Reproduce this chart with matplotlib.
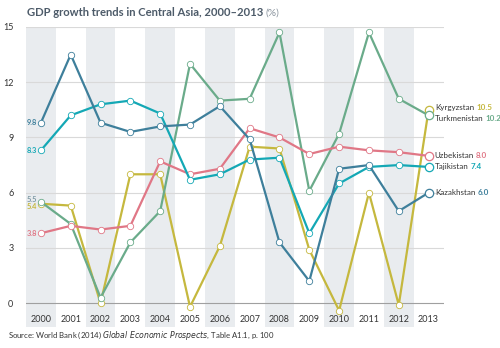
import numpy as np
import matplotlib.pyplot as plt
from matplotlib.patches import Rectangle

plt.rcParams['font.family'] = ['Lato', 'DejaVu Sans']

# -------------------------------
# Data (GDP growth, %)
# -------------------------------
years = list(range(2000, 2014))

kazakhstan   = [9.8, 13.5, 9.8, 9.3, 9.6, 9.7, 10.7, 8.9, 3.3, 1.2, 7.3, 7.5, 5.0, 6.0]
tajikistan   = [8.3, 10.2, 10.8, 11.0, 10.3, 6.7, 7.0, 7.8, 7.9, 3.8, 6.5, 7.4, 7.5, 7.4]
uzbekistan   = [3.8, 4.2, 4.0, 4.2, 7.7, 7.0, 7.3, 9.5, 9.0, 8.1, 8.5, 8.3, 8.2, 8.0]
turkmenistan = [5.5, 4.3, 0.3, 3.3, 5.0, 13.0, 11.0, 11.1, 14.7, 6.1, 9.2, 14.7, 11.1, 10.2]
kyrgyzstan   = [5.4, 5.3, 0.0, 7.0, 7.0, -0.2, 3.1, 8.5, 8.4, 2.9, -0.4, 6.0, -0.1, 10.5]

series = [
    ("Kyrgyzstan",   kyrgyzstan,   "#c5b83e", 10.6),
    ("Turkmenistan", turkmenistan, "#6aab8a", 10.05),
    ("Uzbekistan",   uzbekistan,   "#e07786", 8.0),
    ("Tajikistan",   tajikistan,   "#14a8b5", 7.4),
    ("Kazakhstan",   kazakhstan,   "#3e7f9b", 6.0),
]

# start labels: (value text, colour, y position)
start_labels = [
    ("9.8", "#3e7f9b", 9.8),
    ("8.3", "#14a8b5", 8.3),
    ("5.5", "#7f9aa5", 5.65),
    ("5.4", "#c5b83e", 5.25),
    ("3.8", "#e07786", 3.8),
]

# -------------------------------
# Figure
# -------------------------------
fig = plt.figure(figsize=(5.0, 3.48), dpi=100)
ax = fig.add_axes([0.052, 0.06, 0.835, 0.8625])
ymin, ymax = -1.3, 15
ax.set_xlim(1999.5, 2013.5)
ax.set_ylim(ymin, ymax)

# shaded bands on even years
for yr in years[::2]:
    ax.add_patch(Rectangle((yr - 0.5, ymin), 1.0, ymax - ymin,
                           facecolor="#e9ecef", edgecolor="none", zorder=0))

# grid lines
for g in [3, 6, 9, 12, 15]:
    ax.axhline(g, color="#d9d9d9", linewidth=0.8, zorder=1)
ax.axhline(0, color="#a0a0a0", linewidth=0.8, zorder=1)

for name, vals, col, ylab in series:
    ax.plot(years, vals, color=col, linewidth=1.6, zorder=3,
            marker="o", markersize=4.6, markerfacecolor="white",
            markeredgecolor=col, markeredgewidth=0.6)
    ax.plot(years[-1], vals[-1], marker="o", markersize=6,
            markerfacecolor="white", markeredgecolor=col,
            markeredgewidth=0.9, zorder=4)
    t = ax.annotate(name, xy=(2013.21, ylab), xycoords="data",
                    fontsize=5.8, color="#333333", va="center", ha="left",
                    annotation_clip=False)
    ax.annotate(f"{vals[-1]:.1f}", xycoords=t, xy=(1, 0.5),
                xytext=(1.5, 0), textcoords="offset points", va="center",
                ha="left", fontsize=5.8, fontweight="bold", color=col,
                annotation_clip=False)

for txt, col, yv in start_labels:
    ax.text(1999.87, yv, txt, fontsize=5.4, fontweight="bold", color=col,
            ha="right", va="center", zorder=5)

# x labels inside the axes below zero
for yr in years:
    ax.text(yr, -0.9, str(yr), fontsize=6.5, color="#333333",
            ha="center", va="center")

ax.set_xticks([])
ax.set_yticks([0, 3, 6, 9, 12, 15])
ax.tick_params(axis="y", length=0, pad=9, labelsize=6.5, labelcolor="#333333")
for s in ax.spines.values():
    s.set_visible(False)

# title
t1 = fig.text(0.054, 0.963, "GDP growth trends in Central Asia, 2000\u20132013",
              fontsize=8.1, fontweight="bold", color="#4d5b69", va="center")
fig.canvas.draw()
bb = t1.get_window_extent()
fig.text(bb.x1 / fig.bbox.width + 0.004, 0.963, "(%)", fontsize=7.5,
         color="#8a949e", va="center")

# source
fig.text(0.016, 0.035,
         "Source: World Bank (2014) $\\it{Global\\ Economic\\ Prospects}$, Table A1.1, p. 100",
         fontsize=5.6, color="#333333", va="center")

fig.savefig("out.png", dpi=100)
